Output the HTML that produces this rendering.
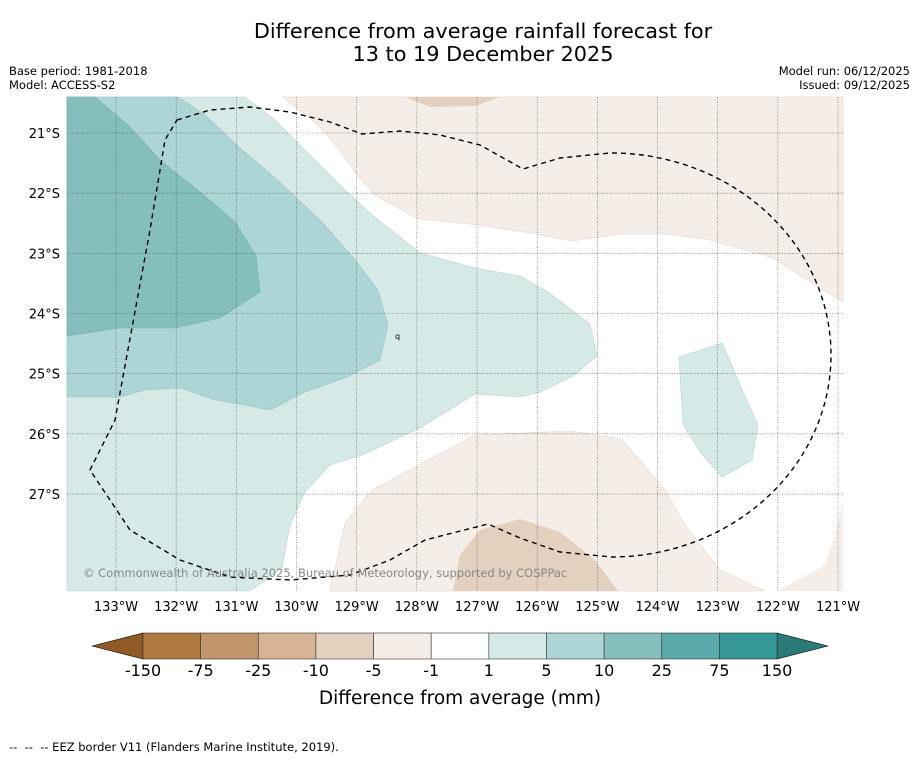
<!DOCTYPE html>
<html><head><meta charset="utf-8"><style>
body{margin:0;background:#fff;width:919px;height:758px;overflow:hidden;font-family:"DejaVu Sans","Liberation Sans",sans-serif}
svg text{font-family:"DejaVu Sans","Liberation Sans",sans-serif}
</style></head><body>
<svg id="c" width="919" height="758">
<text x="483" y="38" text-anchor="middle" font-size="20.8">Difference from average rainfall forecast for</text>
<text x="483" y="61" text-anchor="middle" font-size="20.8">13 to 19 December 2025</text>
<text x="9" y="75" font-size="11.5">Base period: 1981-2018</text>
<text x="9" y="89" font-size="11.5">Model: ACCESS-S2</text>
<text x="910" y="75" font-size="11.5" text-anchor="end">Model run: 06/12/2025</text>
<text x="910" y="89" font-size="11.5" text-anchor="end">Issued: 09/12/2025</text>
<g id="map">
<rect x="67" y="97" width="776" height="494" fill="#fff"/>
<polygon fill="#d5e9e7" stroke="#b9d3d1" stroke-width="0.6" points="67,97 245,97 275,120 320,165 345,190 372,215 420,253 475,268 520,276 548,292 590,324 597,356 573,376 540,392 520,397 475,394 420,428 360,456 330,465 305,492 290,525 282,568 250,591 67,591"/>
<polygon fill="#acd6d5" stroke="#9cc3c2" stroke-width="0.6" points="67,97 178,97 205,115 240,148 275,178 322,222 355,260 378,290 388,325 380,360 345,378 305,392 270,410 245,405 215,400 180,388 145,390 120,397 67,397"/>
<polygon fill="#84bfbe" stroke="#79b0af" stroke-width="0.6" points="67,97 95,97 128,125 160,160 200,192 235,222 256,256 260,292 240,305 220,318 175,328 120,328 67,336"/>
<polygon fill="#d5e9e7" stroke="#b9d3d1" stroke-width="0.6" points="679,357 722,343 740,385 758,425 752,460 722,477 700,452 683,424"/>
<polygon fill="#f5ede7" stroke="#e2d6cc" stroke-width="0.6" points="283,97 843,97 843,302 815,285 773,258 710,240 665,234 620,234 572,241 530,233 478,225 418,219 375,195 355,172 340,150 318,125"/>
<polygon fill="#e3d0bf" points="405,97 500,97 475,106 430,107"/>
<polygon fill="#f5ede7" stroke="#e2d6cc" stroke-width="0.6" points="330,591 345,523 372,490 415,467 475,435 570,431 622,439 665,490 685,525 720,570 765,591"/>
<polygon fill="#e3d0bf" points="453,591 460,555 480,530 520,519 560,532 595,560 618,591"/>
<polygon fill="#f5ede7" points="778,591 825,565 835,535 843,500 843,591"/>
<g id="grid"></g>
<path fill="none" stroke="#000" stroke-width="1.4" stroke-dasharray="5,4" d="M177,120 L210,110 L250,107 L290,112 L330,122 L362,134 L400,131 L440,135 L480,145 L523,169 L560,158 L610,153 A220 202 0 0 1 612,557 L560,552 L520,538 L488,524 L425,540 L390,560 L350,575 L290,580 L230,577 L180,560 L130,530 L90,470 L115,420 L150,230 L165,140 Z"/>
<text x="395" y="339" font-size="8">q</text>
<text x="83" y="577" font-size="11.5" fill="#888">© Commonwealth of Australia 2025, Bureau of Meteorology, supported by COSPPac</text>
</g>
<g id="cbar"></g>
<text x="460" y="704" font-size="18.5" text-anchor="middle">Difference from average (mm)</text>
<text x="9" y="751" font-size="11.5">-- &#160;-- &#160;-- EEZ border V11 (Flanders Marine Institute, 2019).</text>
</svg>
<script>
const lonTicks=[133,132,131,130,129,128,127,126,125,124,123,122,121];
const latTicks=[21,22,23,24,25,26,27];
const levels=["-150","-75","-25","-10","-5","-1","1","5","10","25","75","150"];
const colors=["#ae7840","#c1956a","#d5b393","#e3d0bf","#f5ede7","#ffffff","#d5e9e7","#acd6d5","#84bfbe","#5aaaa9","#339896"];
const ns="http://www.w3.org/2000/svg";
function xLon(l){return 116+(133-l)*60.17;}
function yLat(l){return 133+(l-21)*60.17;}
function mk(t,a,p){const e=document.createElementNS(ns,t);for(const k in a)e.setAttribute(k,a[k]);p.appendChild(e);return e;}
const g=document.getElementById('grid');const svg=document.getElementById('c');
lonTicks.forEach(l=>{const x=xLon(l);
 if(x<843){const ln=mk('line',{x1:x,x2:x,y1:97,y2:591,stroke:'#555','stroke-width':0.6,'stroke-dasharray':'1,1.5'},g);
 
 }
 const t=mk('text',{x:x,y:611,'font-size':13,'text-anchor':'middle'},svg);t.textContent=l+'°W';
 
 });
latTicks.forEach(l=>{const y=yLat(l);
 const ln=mk('line',{x1:67,x2:843,y1:y,y2:y,stroke:'#555','stroke-width':0.6,'stroke-dasharray':'1,1.5'},g);
 
 
 const t=mk('text',{x:60,y:y+5,'font-size':13,'text-anchor':'end'},svg);t.textContent=l+'°S';
 
 });
const cb=document.getElementById('cbar');const x0=143,w=57.64,y0=633,h=26;
const lt=mk('polygon',{points:`92,646 ${x0},${y0} ${x0},${y0+h}`,fill:'#8f5a26',stroke:'#000','stroke-width':0.6},cb);


const xe=x0+w*colors.length;
const rt=mk('polygon',{points:`${xe},${y0} 828,646 ${xe},${y0+h}`,fill:'#2a7b78',stroke:'#000','stroke-width':0.6},cb);


colors.forEach((c,i)=>{const r=mk('rect',{x:x0+i*w,y:y0,width:w,height:h,fill:c,stroke:'#333','stroke-width':0.6},cb);
 
 });
levels.forEach((v,i)=>{const t=mk('text',{x:x0+i*w,y:676,'font-size':16,'text-anchor':'middle'},cb);t.textContent=v;
 
 });
</script>
</body></html>
